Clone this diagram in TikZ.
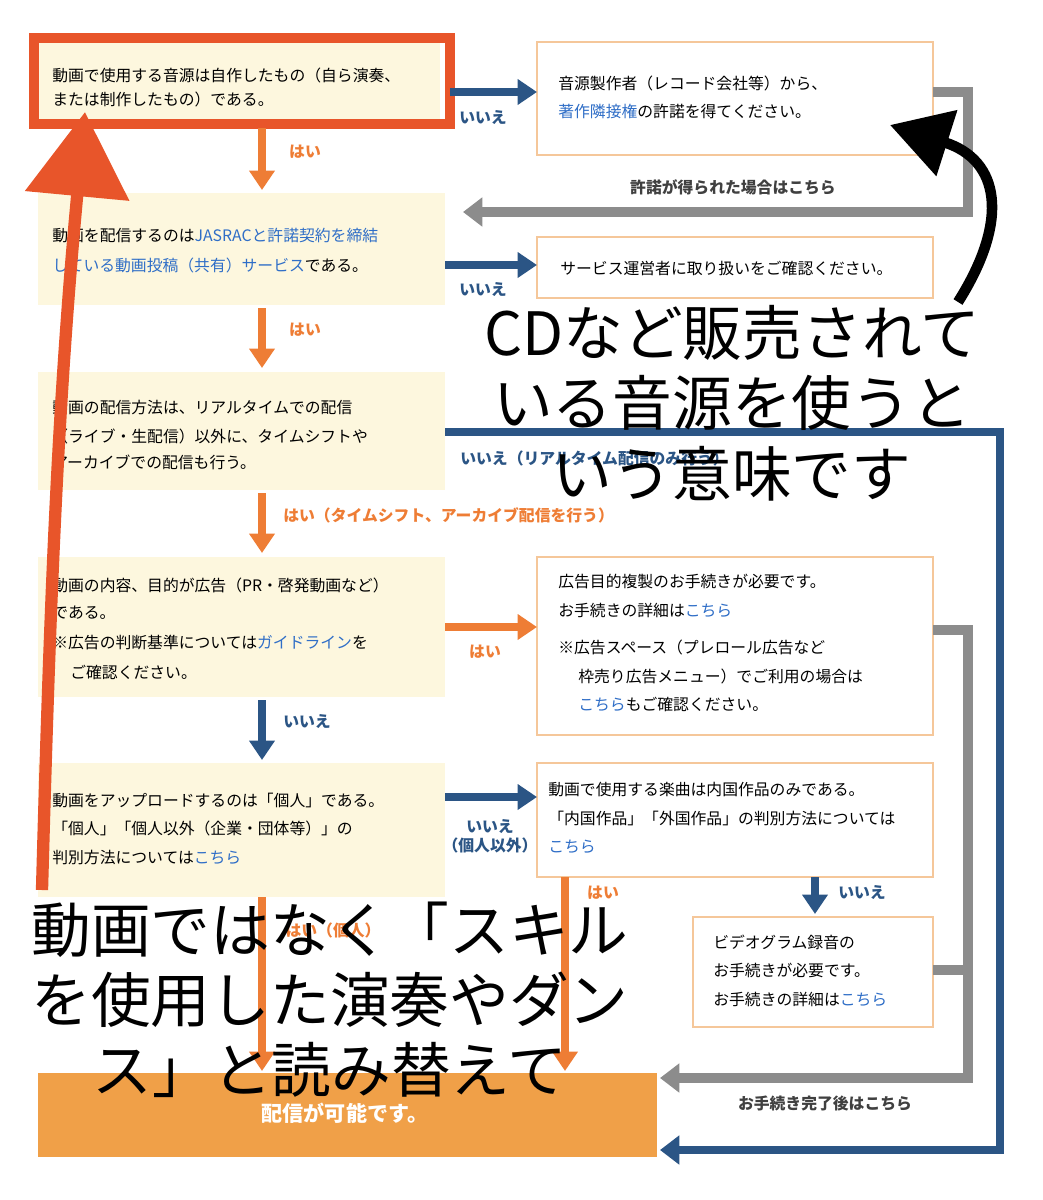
\documentclass[tikz,border=0pt]{standalone}
\usepackage{fontspec}
\setmainfont{Noto Sans CJK JP}
\usetikzlibrary{arrows.meta}
\definecolor{navy}{HTML}{2B5585}
\definecolor{amber}{HTML}{EE7D35}
\definecolor{cream}{HTML}{FDF7DE}
\definecolor{redline}{HTML}{E8552A}
\definecolor{greyline}{HTML}{8C8C8C}
\definecolor{link}{HTML}{2F6EC7}
\definecolor{finalfill}{HTML}{F0A048}
\definecolor{rim}{HTML}{F5C79A}
\newcommand{\lk}[1]{\textcolor{link}{#1}}

\begin{document}
\begin{tikzpicture}[x=0.02cm,y=-0.02cm,
  txt/.style={anchor=west,font=\fontsize{9}{11}\selectfont,inner sep=0pt},
  big/.style={font=\fontsize{34}{40}\selectfont,align=center,inner sep=0pt},
  lbl/.style={font=\fontsize{9}{11}\selectfont\bfseries,inner sep=0pt},
  ask/.style={fill=cream,draw=none},
  ans/.style={fill=white,draw=rim,line width=0.6pt},
  yes/.style={amber,line width=5pt,-{Triangle[length=11pt,width=14pt]}},
  no/.style={navy,line width=5pt,-{Triangle[length=11pt,width=14pt]}},
  back/.style={greyline,line width=6pt,-{Triangle[length=11pt,width=16pt]}}]

\useasboundingbox (0,0) rectangle (1043,1200);

% question boxes
\draw[ask] (38,42) rectangle (440,122);
\draw[redline,line width=6pt] (34,38) rectangle (450,124);
\draw[ask] (38,193) rectangle (445,305);
\draw[ask] (38,372) rectangle (445,490);
\draw[ask] (38,557) rectangle (445,697);
\draw[ask] (38,763) rectangle (445,897);
\coordinate (q1) at (450,92);
\coordinate (q2) at (445,265);
\coordinate (q3) at (445,432);
\coordinate (q4) at (445,627);
\coordinate (q5) at (445,797);

% answer boxes
\draw[ans] (537,42) rectangle (933,155);
\draw[ans] (537,237) rectangle (933,298);
\draw[ans] (537,557) rectangle (933,735);
\draw[ans] (537,763) rectangle (933,877);
\draw[ans] (693,917) rectangle (933,1027);
\draw[fill=finalfill,draw=none] (38,1073) rectangle (657,1157);
\coordinate (a1) at (537,92);
\coordinate (a2) at (537,265);
\coordinate (a4) at (537,627);
\coordinate (a5) at (537,797);

% texts
\node[txt] at (52,75) {動画で使用する音源は自作したもの（自ら演奏、};
\node[txt] at (52,99) {または制作したもの）である。};
\node[txt] at (558,83) {音源製作者（レコード会社等）から、};
\node[txt] at (558,111) {\lk{著作隣接権}の許諾を得てください。};
\node[txt] at (52,236) {動画を配信するのは\lk{JASRACと許諾契約を締結}};
\node[txt] at (52,265) {\lk{している動画投稿（共有）サービス}である。};
\node[txt] at (560,268) {サービス運営者に取り扱いをご確認ください。};
\node[txt] at (52,408) {動画の配信方法は、リアルタイムでの配信};
\node[txt] at (52,436) {（ライブ・生配信）以外に、タイムシフトや};
\node[txt] at (52,462) {アーカイブでの配信も行う。};
\node[txt] at (52,585) {動画の内容、目的が広告（PR・啓発動画など）};
\node[txt] at (52,613) {である。};
\node[txt] at (52,643) {※広告の判断基準については\lk{ガイドライン}を};
\node[txt] at (70,672) {ご確認ください。};
\node[txt] at (558,582) {広告目的複製のお手続きが必要です。};
\node[txt] at (558,610) {お手続きの詳細は\lk{こちら}};
\node[txt] at (558,647) {※広告スペース（プレロール広告など};
\node[txt] at (578,676) {枠売り広告メニュー）でご利用の場合は};
\node[txt] at (578,704) {\lk{こちら}もご確認ください。};
\node[txt] at (52,800) {動画をアップロードするのは「個人」である。};
\node[txt] at (52,828) {「個人」「個人以外（企業・団体等）」の};
\node[txt] at (52,857) {判別方法については\lk{こちら}};
\node[txt] at (548,790) {動画で使用する楽曲は内国作品のみである。};
\node[txt] at (548,818) {「内国作品」「外国作品」の判別方法については};
\node[txt] at (548,847) {\lk{こちら}};
\node[txt] at (713,942) {ビデオグラム録音の};
\node[txt] at (713,970) {お手続きが必要です。};
\node[txt] at (713,999) {お手続きの詳細は\lk{こちら}};
\node[txt,anchor=center,white,font=\fontsize{12}{14}\selectfont\bfseries] (ok) at (345,1113) {配信が可能です。};

% yes / no arrows
\draw[no] (q1) -- (a1);
\node[lbl,navy] at (483,118) {いいえ};
\draw[yes] (262,128) -- (262,190);
\node[lbl,amber] at (305,152) {はい};
\draw[no] (q2) -- (a2);
\node[lbl,navy] at (483,290) {いいえ};
\draw[yes] (262,308) -- (262,368);
\node[lbl,amber] at (305,330) {はい};
\draw[yes] (262,493) -- (262,553);
\node[lbl,amber,anchor=west] at (283,515) {はい（タイムシフト、アーカイブ配信を行う）};
\draw[yes] (q4) -- (a4);
\node[lbl,amber] at (485,652) {はい};
\draw[no] (262,700) -- (262,760);
\node[lbl,navy] at (307,722) {いいえ};
\draw[no] (q5) -- (a5);
\node[lbl,navy,align=center] at (490,836) {いいえ\\（個人以外）};
\draw[no] (815,877) -- (815,914);
\node[lbl,navy] at (862,893) {いいえ};
\draw[yes] (262,897) -- (262,1071);
\node[lbl,amber] at (333,930) {はい（個人）};
\draw[yes] (565,877) -- (565,1071);
\node[lbl,amber] at (603,893) {はい};

% return lines
\draw[back] (933,92) -- (968,92) -- (968,212) -- (463,212);
\node[lbl,black!75] at (733,187) {許諾が得られた場合はこちら};
\draw[greyline,line width=6pt] (933,970) -- (968,970);
\draw[back] (933,630) -- (968,630) -- (968,1078) -- (660,1078);
\node[lbl,black!75] at (825,1103) {お手続き完了後はこちら};
\draw[navy,line width=5pt,-{Triangle[length=11pt,width=16pt]}] (q3) -- (1000,432) -- (1000,1150) -- (660,1150);
\node[lbl,navy,anchor=west] at (460,458) {いいえ（リアルタイム配信のみ行う）};

% notes
\draw[black,line width=6pt,-{Triangle[length=34pt,width=38pt]}] (958,302) .. controls (1010,220) and (1000,160) .. (890,125);
\draw[redline,line width=7pt,-{Triangle[length=48pt,width=58pt]}] (42,890) .. controls (50,600) and (58,400) .. (85,112);
\node[big] (cd) at (732,403) {CDなど販売されて\\いる音源を使うと\\いう意味です};
\node[big] (sk) at (330,1000) {動画ではなく「スキル\\を使用した演奏やダン\\ス」と読み替えて};
\end{tikzpicture}
\end{document}
